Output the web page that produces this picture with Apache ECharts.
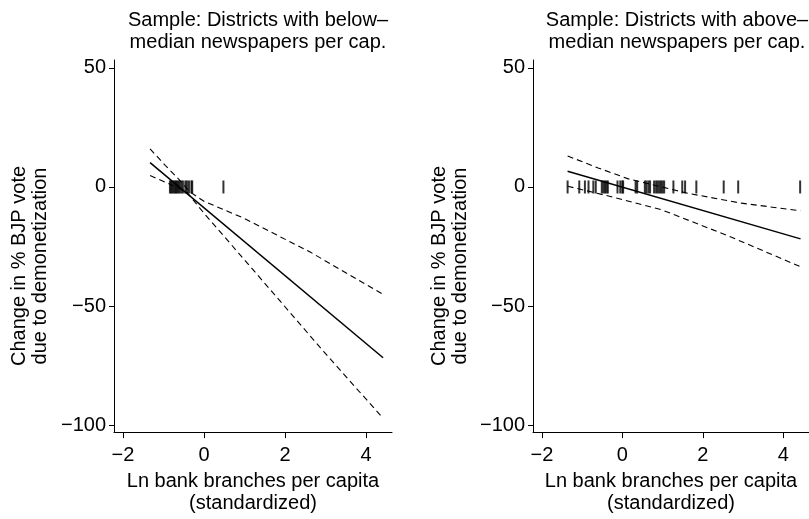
<!DOCTYPE html>
<html>
<head>
<meta charset="utf-8">
<script src="https://cdn.jsdelivr.net/npm/echarts@6/dist/echarts.min.js"></script>
<style>
html,body{margin:0;padding:0;background:#fff;}
#main{width:809px;height:519px;}
</style>
</head>
<body>
<div id="main"></div>
<script>
// Panel titles
var panelTitles = ["Sample: Districts with below\u2013\nmedian newspapers per cap.", "Sample: Districts with above\u2013\nmedian newspapers per cap."];
var xTitle = "Ln bank branches per capita\n(standardized)";
var yTitle = "Change in % BJP vote\ndue to demonetization";
var xTicks = [-2, 0, 2, 4];
var yTicks = [50, 0, -50, -100];

// Left panel (below-median newspapers)
var leftFit = [[-1.33, 10.2], [4.42, -71.7]];
var leftUpper = [[-1.33, 16.0], [-0.95, 9.0], [-0.63, 3.4], [-0.35, -2.0], [0.0, -6.0], [0.97, -13.0], [2.62, -27.3], [4.42, -45.1]];
var leftLower = [[-1.33, 4.8], [-0.9, 1.6], [-0.43, -2.0], [0.0, -11.0], [0.97, -30.0], [2.95, -69.0], [4.42, -97.1]];
var leftRug = [-0.84, -0.81, -0.78, -0.75, -0.72, -0.69, -0.66, -0.63, -0.60, -0.56, -0.52, -0.46, -0.42, -0.37, -0.31, -0.29, 0.48];

// Right panel (above-median newspapers)
var rightFit = [[-1.36, 6.6], [4.43, -21.8]];
var rightUpper = [[-1.36, 13.0], [-0.6, 8.0], [0.15, 3.4], [1.64, -2.7], [2.96, -6.8], [4.43, -10.0]];
var rightLower = [[-1.36, 0.3], [-0.27, -4.1], [0.98, -9.6], [2.63, -20.5], [4.43, -33.5]];
var rightRug = [-1.36, -1.07, -0.93, -0.84, -0.72, -0.66, -0.51, -0.47, -0.43, -0.39, -0.36, -0.12, -0.05, 0.0, 0.02, 0.33, 0.37, 0.56, 0.60, 0.65, 0.69, 0.79, 0.84, 0.88, 0.92, 0.96, 1.00, 1.04, 1.27, 1.49, 1.56, 1.84, 2.52, 2.88, 4.42];

var FONT = "'Liberation Sans', Arial, Helvetica, sans-serif";
var FS = 20;
function minus(v){ return String(v).replace('-', '\u2212'); }

function xAxisOpt(gi){
  return {
    type: 'value', gridIndex: gi, min: -2.22, max: 4.64,
    name: xTitle, nameLocation: 'middle', nameGap: 35,
    nameTextStyle: {fontFamily: FONT, fontSize: FS, color: '#000', lineHeight: 22, verticalAlign: 'top'},
    axisLine: {show: true, onZero: false, lineStyle: {color: '#000', width: 1}},
    axisTick: {show: true, length: 6, customValues: xTicks, lineStyle: {color: '#000'}},
    axisLabel: {customValues: xTicks, formatter: minus, fontFamily: FONT, fontSize: FS, color: '#000', margin: 13},
    splitLine: {show: false}
  };
}
function yAxisOpt(gi){
  return {
    type: 'value', gridIndex: gi, min: -102.9, max: 53.3,
    axisLine: {show: true, onZero: false, lineStyle: {color: '#000', width: 1}},
    axisTick: {show: true, length: 5, customValues: yTicks, lineStyle: {color: '#000'}},
    axisLabel: {customValues: yTicks, formatter: minus, fontFamily: FONT, fontSize: FS, color: '#000', margin: 8},
    splitLine: {show: false}
  };
}
function lineS(gi, data, dashed){
  return {
    type: 'line', xAxisIndex: gi, yAxisIndex: gi, data: data, symbol: 'none',
    lineStyle: {color: '#000', width: dashed ? 1.1 : 1.5, type: dashed ? [6, 4] : 'solid'},
    silent: true, animation: false
  };
}
function rugS(gi, xs){
  return {
    type: 'scatter', xAxisIndex: gi, yAxisIndex: gi,
    data: xs.map(function(x){ return [x, 0]; }),
    symbol: 'rect', symbolSize: [2, 13],
    itemStyle: {color: '#000'}, silent: true, animation: false
  };
}
function yTitleG(cx){
  return {
    type: 'text', x: cx, y: 266, rotation: Math.PI / 2,
    style: {text: yTitle, font: FS + 'px ' + FONT, fill: '#000', align: 'center', verticalAlign: 'middle', lineHeight: 21}
  };
}

var chart = echarts.init(document.getElementById('main'), null, {renderer: 'canvas'});
chart.setOption({
  backgroundColor: '#fff',
  animation: false,
  title: [
    {text: panelTitles[0], left: 253, top: 4, textAlign: 'center', textStyle: {fontFamily: FONT, fontSize: FS, fontWeight: 'normal', color: '#000', lineHeight: 22}},
    {text: panelTitles[1], left: 672, top: 4, textAlign: 'center', textStyle: {fontFamily: FONT, fontSize: FS, fontWeight: 'normal', color: '#000', lineHeight: 22}}
  ],
  grid: [
    {left: 114, top: 60, width: 278, height: 381, containLabel: false},
    {left: 533, top: 60, width: 278, height: 381, containLabel: false}
  ],
  xAxis: [xAxisOpt(0), xAxisOpt(1)],
  yAxis: [yAxisOpt(0), yAxisOpt(1)],
  graphic: [yTitleG(30), yTitleG(450)],
  series: [
    rugS(0, leftRug), lineS(0, leftFit, false), lineS(0, leftUpper, true), lineS(0, leftLower, true),
    rugS(1, rightRug), lineS(1, rightFit, false), lineS(1, rightUpper, true), lineS(1, rightLower, true)
  ]
});
</script>
</body>
</html>
